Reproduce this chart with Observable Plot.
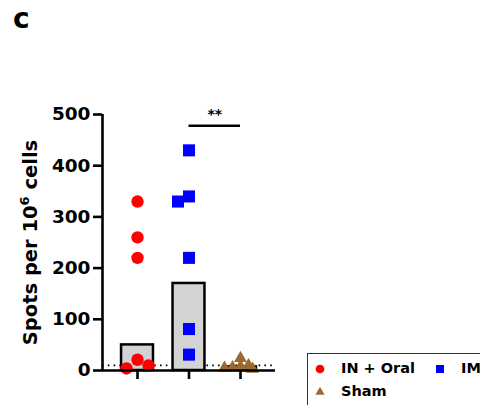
<!DOCTYPE html>
<html><head><meta charset="utf-8">
<script src="https://cdn.jsdelivr.net/npm/d3@7"></script>
<script src="https://cdn.jsdelivr.net/npm/@observablehq/plot@0.6"></script>
<style>
body{margin:0;background:#fff;}
#wrap{position:relative;width:480px;height:405px;overflow:hidden;font-family:"DejaVu Sans",sans-serif;font-weight:bold;color:#000;}
#chart{position:absolute;left:0;top:0;}
#panel{position:absolute;left:13px;top:2px;font-size:28px;line-height:normal;font-weight:bold;}
#legend{position:absolute;left:307px;top:353px;width:220px;height:100px;border:1.5px solid #333;}
.li{position:absolute;font-size:14.5px;white-space:nowrap;line-height:1;}
.sw{position:absolute;}
</style>
</head><body>
<div id="wrap">
  <div id="chart"></div>
  <div id="panel">c</div>
  <div id="legend"></div>
</div>
<script>
const groups = ["IN + Oral", "IM", "Sham"];
const inOral = [330, 260, 220, 21, 4, 10];
const im = [430, 340, 330, 220, 81, 31];
const sham = [24, 8, 6, 10, 3, 5];
const means = [50, 170, 7];
const colors = ["#ff0000", "#0000ff", "#9a6a2f"];
const symbols = ["circle", "square", "triangle"];
const yTicks = [0, 100, 200, 300, 400, 500];
const threshold = [10];
const sigLabel = "**";
const sigY = 478;
const yLabel = "Spots per 10^6 cells";

const W = 480, H = 405;
const mL = 102, mR = 205, mT = 114, mB = 35;
const xDomain = [-0.68, 2.68];
const yDomain = [0, 500];
const xS = Plot.scale({x: {type: "linear", domain: xDomain, range: [mL, W - mR]}});
const yS = Plot.scale({y: {type: "linear", domain: yDomain, range: [H - mB, mT]}});

// simple beeswarm dodge computed in pixel space
const series = [inOral, im, sham];
const dodge = [{step: 11, min: 11.5}, {step: 11, min: 11.5}, {step: 4, min: 5}];
const points = [];
series.forEach((vals, gi) => {
  const placed = [];
  const {step, min} = dodge[gi];
  vals.forEach(v => {
    const py = yS.apply(v);
    const cx = xS.apply(gi);
    for (let k = 0; k < 20; k++) {
      const off = k === 0 ? 0 : (k % 2 ? -1 : 1) * Math.ceil(k / 2) * step;
      const px = cx + off;
      if (placed.every(p => Math.hypot(p[0] - px, p[1] - py) >= min)) {
        placed.push([px, py]);
        points.push({g: gi, x: xS.invert(px), y: v});
        break;
      }
    }
  });
});
const bars = means.map((m, i) => ({i, m}));

const plot = Plot.plot({
  width: W, height: H,
  marginLeft: mL, marginRight: mR, marginTop: mT, marginBottom: mB,
  x: {domain: xDomain, axis: null},
  y: {domain: yDomain, axis: null},
  style: {fontFamily: "DejaVu Sans, sans-serif", fontWeight: "bold", color: "#000", background: "transparent"},
  marks: [
    Plot.ruleY(threshold, {stroke: "#000", strokeWidth: 1.6, strokeDasharray: "1.6,4.2"}),
    Plot.rectY(bars, {x1: d => d.i - 0.31, x2: d => d.i + 0.31, y1: 0, y2: "m", fill: "#d3d3d3", stroke: "#000", strokeWidth: 2.5}),
    Plot.dot(points.filter(d => d.g === 0), {x: "x", y: "y", symbol: symbols[0], fill: colors[0], r: 6.2}),
    Plot.dot(points.filter(d => d.g === 1), {x: "x", y: "y", symbol: symbols[1], fill: colors[1], r: 6.8}),
    Plot.dot(points.filter(d => d.g === 2), {x: "x", y: "y", symbol: symbols[2], fill: colors[2], r: 4.8}),
    Plot.ruleY([0], {stroke: "#000", strokeWidth: 2.6}),
    Plot.ruleX([xDomain[0]], {y1: yDomain[0], y2: yDomain[1], stroke: "#000", strokeWidth: 2.6}),
    Plot.axisY({ticks: yTicks, tickSize: 9, tickPadding: 3, strokeWidth: 2.6, fontSize: 18.5, fontWeight: "bold", fill: "#000", label: null}),
    Plot.axisX({ticks: [0, 1, 2], tickSize: 9, strokeWidth: 2.6, tickFormat: () => "", label: null}),
    Plot.ruleY([sigY], {x1: 1, x2: 2, stroke: "#000", strokeWidth: 2.6}),
    Plot.text([sigLabel], {x: 1.5, y: sigY, dy: -11, text: d => d, fontSize: 14, fontWeight: "bold", fill: "#000"}),
    Plot.text([yLabel], {frameAnchor: "left", dx: -72, rotate: -90, text: d => d, fontSize: 19.5, fontWeight: "bold", fill: "#000", textAnchor: "middle", lineAnchor: "middle"})
  ]
});
document.getElementById("chart").appendChild(plot);

// superscript in the y label
plot.querySelectorAll("text").forEach(t => {
  if (t.textContent === yLabel) {
    const [base, rest] = yLabel.split("^");
    const exp = rest[0], tail = rest.slice(1);
    while (t.firstChild) t.removeChild(t.firstChild);
    const ns = "http://www.w3.org/2000/svg";
    const a = document.createElementNS(ns, "tspan"); a.textContent = base;
    const b = document.createElementNS(ns, "tspan"); b.textContent = exp;
    b.setAttribute("dy", "-8"); b.setAttribute("font-size", "13");
    const c = document.createElementNS(ns, "tspan"); c.textContent = tail;
    c.setAttribute("dy", "8");
    t.append(a, b, c);
  }
});

// legend
const legend = document.getElementById("legend");
const items = [
  {label: groups[0], sym: symbols[0], col: colors[0], x: 12, y: 15},
  {label: groups[1], sym: symbols[1], col: colors[1], x: 132, y: 15},
  {label: groups[2], sym: symbols[2], col: colors[2], x: 12, y: 38}
];
items.forEach(it => {
  const s = d3.create("svg").attr("class", "sw").attr("width", 12).attr("height", 12)
    .style("left", (it.x - 6) + "px").style("top", (it.y - 6) + "px");
  const sym = {circle: d3.symbolCircle, square: d3.symbolSquare, triangle: d3.symbolTriangle}[it.sym];
  const size = {circle: 60, square: 64, triangle: 36}[it.sym];
  s.append("path").attr("transform", "translate(6,6)").attr("d", d3.symbol(sym, size)()).attr("fill", it.col);
  legend.appendChild(s.node());
  const t = document.createElement("div");
  t.className = "li"; t.textContent = it.label;
  t.style.left = (it.x + 21) + "px"; t.style.top = (it.y - 8) + "px";
  legend.appendChild(t);
});
</script>
</body></html>
